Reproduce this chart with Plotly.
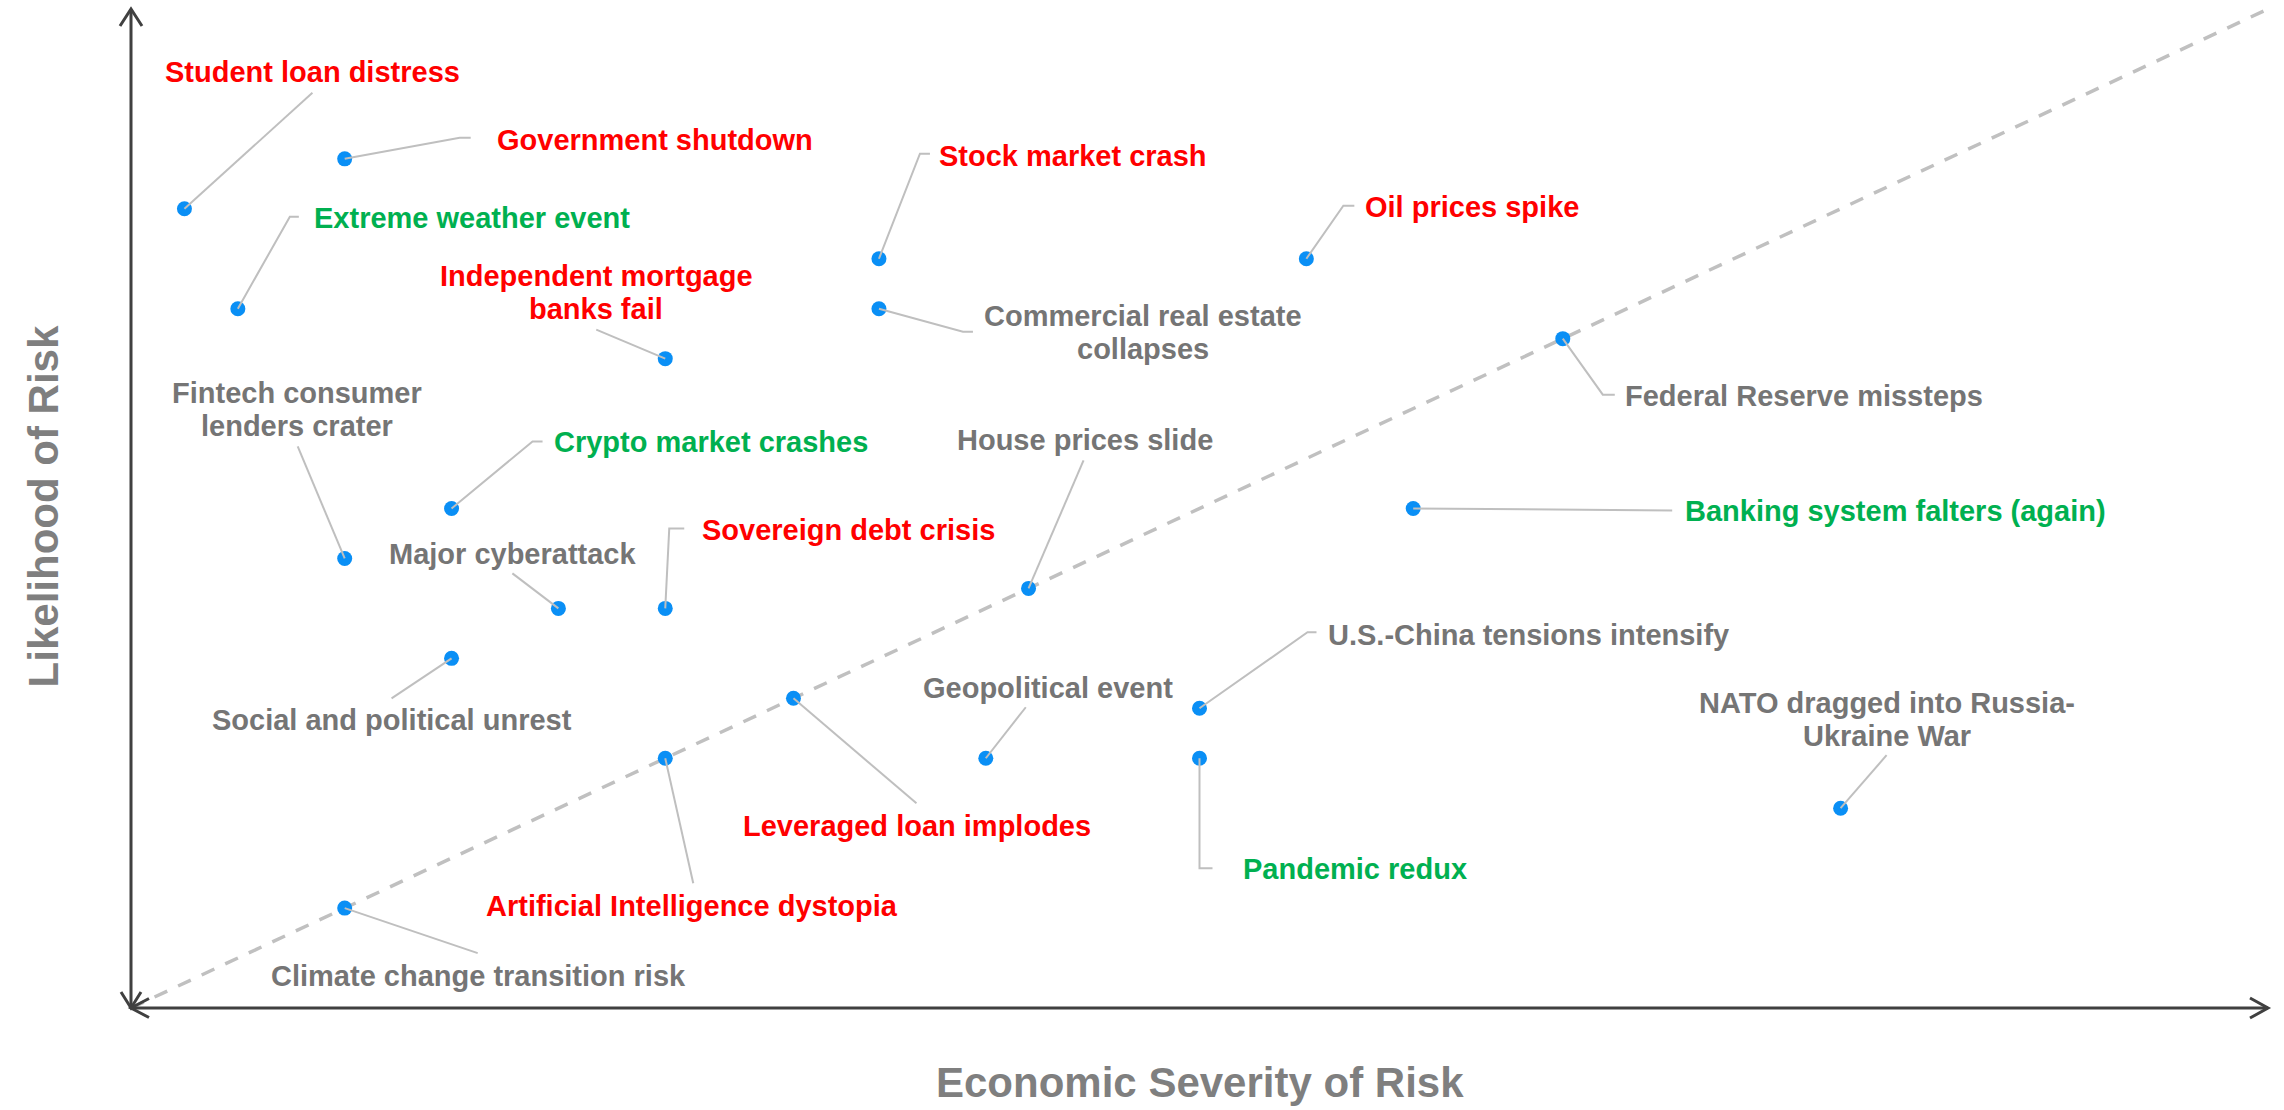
import plotly.graph_objects as go

# ---------------- data ----------------
risks = [
    "Student loan distress", "Government shutdown", "Extreme weather event",
    "Independent mortgage<br>banks fail", "Stock market crash",
    "Commercial real estate<br>collapses", "Oil prices spike",
    "Federal Reserve missteps", "Fintech consumer<br>lenders crater",
    "Crypto market crashes", "House prices slide", "Banking system falters (again)",
    "Major cyberattack", "Sovereign debt crisis", "Social and political unrest",
    "U.S.-China tensions intensify", "Geopolitical event", "Leveraged loan implodes",
    "Artificial Intelligence dystopia", "Pandemic redux",
    "NATO dragged into Russia-<br>Ukraine War", "Climate change transition risk",
]
severity = [1, 4, 2, 10, 14, 14, 22, 26.8, 4, 6, 16.8, 24, 8, 10, 6, 20, 16, 12.4, 10, 20, 32, 4]
likelihood = [16, 17, 14, 13, 15, 14, 15, 13.4, 9, 10, 8.4, 10, 8, 8, 7, 6, 5, 6.2, 5, 5, 4, 2]
category = ["red", "red", "green", "red", "red", "gray", "red", "gray", "gray", "green",
            "gray", "green", "gray", "red", "gray", "gray", "gray", "red", "red", "green",
            "gray", "gray"]

# ---------------- label layout (pixels, relative to marker; +y = down) ----------------
label_dx = [128, 310, 234, -69, 194, 264, 166, 241, -48, 259, 56, 482, -46, 183, -60, 329, 62, 124, 27, 155, 46, 134]
label_dy = [-137, -19, -91, -66, -103, 24, -52, 57, -149, -67, -148, 2, -54, -78, 62, -73, -70, 128, 148, 111, -89, 68]
leader_dx = [128, 115, 52, -69, 41, 84, 37, 40, -47, 81, 55, 259, -46, 4, -60, 108, 40, 123, 28, 0, 46, 133]
leader_dy = [-116, -21, -92, -29, -105, 23, -53, 56, -112, -67, -128, 2, -35, -80, 40, -76, -51, 105, 125, 110, -53, 45]
elbow = [0, 11, 9, 0, 10, 10, 11, 12, 0, 10, 0, 0, 0, 15, 0, 9, 0, 0, 0, 13, 0, 0]
LINE_GAP = 33  # px between lines of two-line labels

color_map = {"red": "#FF0000", "green": "#00B050", "gray": "#757575"}
marker_color = "#0A8FF5"
leader_color = "#BFBFBF"
axis_color = "#404040"
font_family = "Liberation Sans, Arial, Helvetica, sans-serif"

X_MAX, Y_MAX = 40, 20

fig = go.Figure()

# diagonal reference line
fig.add_shape(type="line", x0=0, y0=0, x1=X_MAX, y1=Y_MAX, xref="x", yref="y",
              line=dict(color="#C0C0C0", width=3.5, dash="14px,12px"), layer="below")

# axes lines (paper refs so they are not clipped)
fig.add_shape(type="line", x0=0, y0=0, x1=0, y1=1, xref="paper", yref="paper",
              line=dict(color=axis_color, width=3))
fig.add_shape(type="line", x0=0, y0=0, x1=1, y1=0, xref="paper", yref="paper",
              line=dict(color=axis_color, width=3))

# arrow heads (open chevrons), sized in pixels
chevrons = [
    (0, 1, "M-11,-17 L0,0 L11,-17"),
    (0, 0, "M-10,16 L0,0 L10,16"),
    (0, 0, "M18,9.5 L0,0 L18,-9.5"),
    (1, 0, "M-18,10 L0,0 L-18,-10"),
]
for ax_, ay_, p in chevrons:
    fig.add_shape(type="path", path=p, xref="paper", yref="paper", xsizemode="pixel",
                  ysizemode="pixel", xanchor=ax_, yanchor=ay_,
                  line=dict(color=axis_color, width=3))

# markers
fig.add_trace(go.Scatter(
    x=severity, y=likelihood, mode="markers", text=risks, hoverinfo="text",
    marker=dict(size=15, color=marker_color, line=dict(width=0)),
    showlegend=False,
))

# leader lines + labels
for i, name in enumerate(risks):
    lx, ly = leader_dx[i], -leader_dy[i]
    e = elbow[i]
    path = f"M0,0 L{lx},{ly}"
    if e:
        path += f" L{lx + e},{ly}"
    fig.add_shape(type="path", path=path, xref="x", yref="y", xsizemode="pixel",
                  ysizemode="pixel", xanchor=severity[i], yanchor=likelihood[i],
                  line=dict(color=leader_color, width=2), layer="above")
    lines = name.split("<br>")
    n = len(lines)
    for k, line in enumerate(lines):
        off = (k - (n - 1) / 2) * LINE_GAP
        fig.add_annotation(
            x=severity[i], y=likelihood[i], xref="x", yref="y",
            xshift=label_dx[i], yshift=-(label_dy[i] + off), showarrow=False,
            text=line, align="center", xanchor="center", yanchor="middle",
            font=dict(family=font_family, size=29, color=color_map[category[i]], weight="bold"),
        )

# axis titles
fig.add_annotation(x=0.5, y=-0.075, xref="paper", yref="paper", showarrow=False,
                   text="Economic Severity of Risk", xanchor="center", yanchor="middle",
                   borderpad=0,
                   font=dict(family=font_family, size=42, color="#7F7F7F", weight="bold"))
fig.add_annotation(x=-0.041, y=0.5025, xref="paper", yref="paper", showarrow=False,
                   text="Likelihood of Risk", textangle=-90, xanchor="center", yanchor="middle",
                   font=dict(family=font_family, size=42, color="#7F7F7F", weight="bold"))

fig.update_xaxes(range=[0, X_MAX], visible=False, showgrid=False, zeroline=False)
fig.update_yaxes(range=[0, Y_MAX], visible=False, showgrid=False, zeroline=False)
fig.update_layout(
    width=2284, height=1110,
    margin=dict(l=131, r=16, t=9, b=102),
    paper_bgcolor="white", plot_bgcolor="white",
    showlegend=False,
)

fig.write_html("out.html", config={"displayModeBar": False},
               post_script="document.body.style.margin='0';document.body.style.overflow='hidden';")
